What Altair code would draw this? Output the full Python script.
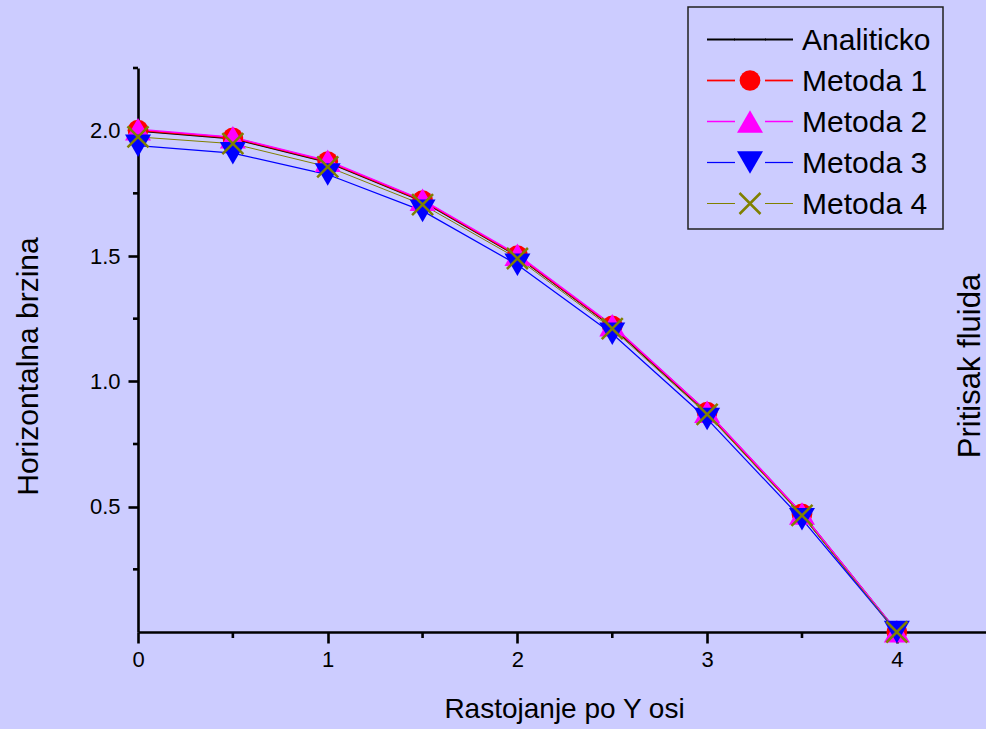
import altair as alt
import pandas as pd

# ---------------- data ----------------
x_vals = [0, 0.5, 1, 1.5, 2, 2.5, 3, 3.5, 4]
analiticko = [2.000, 1.969, 1.875, 1.719, 1.500, 1.219, 0.875, 0.469, 0.000]
metoda1 = [2.002, 1.971, 1.877, 1.721, 1.502, 1.221, 0.877, 0.471, 0.000]
metoda2 = [2.006, 1.974, 1.880, 1.724, 1.505, 1.224, 0.879, 0.473, 0.003]
metoda3 = [1.940, 1.910, 1.825, 1.680, 1.465, 1.190, 0.850, 0.450, 0.000]
metoda4 = [1.975, 1.948, 1.856, 1.705, 1.490, 1.210, 0.868, 0.465, 0.000]

series_names = ["Analiticko", "Metoda 1", "Metoda 2", "Metoda 3", "Metoda 4"]
series_colors = ["#000000", "#FF0000", "#FF00FF", "#0000FF", "#808000"]
series_widths = [2, 1, 1, 1, 1]

x_major_ticks = [0, 1, 2, 3, 4]
x_minor_ticks = [0.5, 1.5, 2.5, 3.5]
y_major_ticks = [0.5, 1.0, 1.5, 2.0]
y_minor_ticks = [0.25, 0.75, 1.25, 1.75, 2.25]

x_title = "Rastojanje po Y osi"
y_title = "Horizontalna brzina"
right_title = "Pritisak fluida"

# ---------------- styling ----------------
FONT = "Liberation Sans"
BG = "#CCCCFF"
W, H = 848, 564
AXW = 2.6

rows = []
for name, ys in zip(series_names, [analiticko, metoda1, metoda2, metoda3, metoda4]):
    for xv, yv in zip(x_vals, ys):
        rows.append({"x": xv, "y": yv, "series": name})
df = pd.DataFrame(rows)

color_scale = alt.Scale(domain=series_names, range=series_colors)
x_scale = alt.Scale(domain=[0, 4.47], nice=False, zero=False)
y_scale = alt.Scale(domain=[0, 2.25], nice=False, zero=False)

markers = {
    "Metoda 1": dict(shape="circle", size=430, filled=True),
    "Metoda 2": dict(shape="triangle-up", size=676, filled=True),
    "Metoda 3": dict(shape="triangle-down", size=676, filled=True),
    "Metoda 4": dict(shape="M-1,-1L1,1M-1,1L1,-1", size=441, filled=False),
}

x_axis = alt.Axis(
    values=x_major_ticks, format="d", tickSize=11, tickWidth=AXW, tickColor="black",
    domainColor="black", domainWidth=AXW, grid=False,
    labelFont=FONT, labelFontSize=22, labelColor="black", labelPadding=6,
    labelFlush=False, labelOverlap=False,
    titleFont=FONT, titleFontSize=28, titleFontWeight="normal", titleColor="black",
    titleX=426, titleY=85, titleBaseline="alphabetic", titleAlign="center",
)
y_axis = alt.Axis(
    values=y_major_ticks, format=".1f", tickSize=10, tickWidth=AXW, tickColor="black",
    domainColor="black", domainWidth=AXW, grid=False,
    labelFont=FONT, labelFontSize=22, labelColor="black", labelPadding=8,
    labelFlush=False, labelOverlap=False,
    titleFont=FONT, titleFontSize=30, titleFontWeight="normal", titleColor="black",
    titleX=-101, titleY=298, titleBaseline="alphabetic", titleAlign="center", titleAngle=270,
)


def X(field="x"):
    return alt.X(f"{field}:Q", scale=x_scale, axis=x_axis, title=x_title)


def Y(field="y"):
    return alt.Y(f"{field}:Q", scale=y_scale, axis=y_axis, title=y_title)


base = alt.Chart(df)

lines = base.mark_line().encode(
    x=X(), y=Y(),
    color=alt.Color("series:N", scale=color_scale, legend=None),
    strokeWidth=alt.StrokeWidth("series:N", scale=alt.Scale(domain=series_names, range=series_widths), legend=None),
    order=alt.Order("x:Q"),
)

layers = [lines]


def marker_props(m):
    if m["filled"]:
        return dict(shape=m["shape"], size=m["size"], filled=True, opacity=1, strokeWidth=0)
    return dict(shape=m["shape"], size=m["size"], filled=False, opacity=1, strokeWidth=2.5)


# plot markers
for name, m in markers.items():
    layers.append(
        base.transform_filter(alt.datum.series == name).mark_point(**marker_props(m)).encode(
            x=X(), y=Y(),
            color=alt.Color("series:N", scale=color_scale, legend=None),
        )
    )

# minor ticks (positions through the axis scales)
xminor = alt.Chart(pd.DataFrame({"x": x_minor_ticks})).mark_rule(color="black", strokeWidth=AXW).encode(
    x=X(), y=alt.value(H), y2=alt.value(H + 6),
)
yminor = alt.Chart(pd.DataFrame({"y": y_minor_ticks})).mark_rule(color="black", strokeWidth=AXW).encode(
    y=Y(), x=alt.value(0), x2=alt.value(-5),
)
layers += [xminor, yminor]

# ---------------- legend (manual, Origin style) ----------------
LEG_Y0 = -28.5   # first row centre relative to plot top
LEG_DY = 41
leg_df = pd.DataFrame({"series": series_names, "idx": list(range(len(series_names)))})
leg_base = alt.Chart(leg_df).transform_calculate(
    ly=f"{LEG_Y0} + {LEG_DY} * datum.idx",
    ty=f"{LEG_Y0} + {LEG_DY} * datum.idx + 10.8",
)

frame = alt.Chart(pd.DataFrame({"a": [0]})).mark_rect(fill=BG, stroke="#202020", strokeWidth=1.5).encode(
    x=alt.value(550), x2=alt.value(805), y=alt.value(-61), y2=alt.value(161),
)
layers.append(frame)

ly_enc = alt.Y("ly:Q", scale=None)
leg_sw = alt.StrokeWidth("series:N", scale=alt.Scale(domain=series_names, range=[2.6, 1, 1, 1, 1]), legend=None)
leg_col = alt.Color("series:N", scale=color_scale, legend=None)

for x1, x2 in [(569, 597), (627, 655)]:
    layers.append(
        leg_base.mark_rule().encode(x=alt.value(x1), x2=alt.value(x2), y=ly_enc, color=leg_col, strokeWidth=leg_sw)
    )
layers.append(
    leg_base.transform_filter(alt.datum.series == "Analiticko").mark_rule().encode(
        x=alt.value(596), x2=alt.value(628), y=ly_enc, color=leg_col, strokeWidth=leg_sw)
)
for name, m in markers.items():
    layers.append(
        leg_base.transform_filter(alt.datum.series == name).mark_point(**marker_props(m)).encode(
            x=alt.value(612), y=ly_enc, color=leg_col)
    )
layers.append(
    leg_base.mark_text(align="left", baseline="alphabetic", font=FONT, fontSize=30, color="black").encode(
        x=alt.value(664), y=alt.Y("ty:Q", scale=None), text="series:N")
)

# right-hand axis title
layers.append(
    alt.Chart(pd.DataFrame({"t": [right_title]})).mark_text(
        angle=270, align="center", baseline="alphabetic", font=FONT, fontSize=31, color="black"
    ).encode(x=alt.value(842), y=alt.value(298), text="t:N")
)

chart = alt.layer(*layers).properties(
    width=W, height=H,
    autosize=alt.AutoSizeParams(type="none"),
    padding={"left": 138, "top": 68, "right": 0, "bottom": 97},
    background=BG,
).configure_view(strokeWidth=0, fill=BG)

chart.save("out.html", embed_options={"renderer": "svg", "actions": False})
